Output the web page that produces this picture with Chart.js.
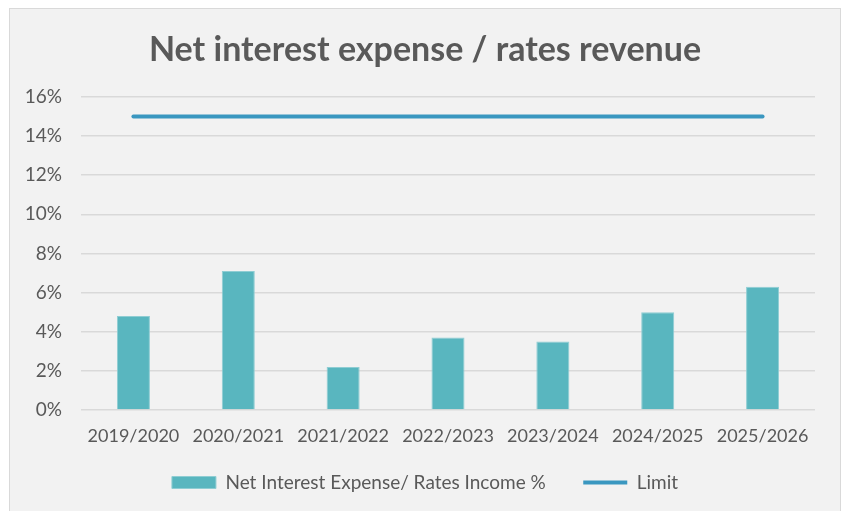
<!DOCTYPE html>
<html>
<head>
<meta charset="utf-8">
<script src="https://cdn.jsdelivr.net/npm/chart.js@4/dist/chart.umd.min.js"></script>
<style>
    html, body { margin: 0; padding: 0; background: #ffffff; }
    #frame {
        position: absolute; left: 9px; top: 8px;
        width: 830px; height: 510px;
        background: #f2f2f2; border: 1px solid #d9d9d9;
    }
    #chart { display: block; }
</style>
</head>
<body>
<div id="frame"><canvas id="chart" width="830" height="510"></canvas></div>
<script>
(function () {
    'use strict';

    var categories = ['2019/2020', '2020/2021', '2021/2022', '2022/2023', '2023/2024', '2024/2025', '2025/2026'];
    var expenseRatio = [4.8, 7.1, 2.2, 3.7, 3.5, 5.0, 6.3];
    var limitValues = [15, 15, 15, 15, 15, 15, 15];
    var yTicks = [0, 2, 4, 6, 8, 10, 12, 14, 16];

    var textColor = '#595959';
    var fontFamily = 'Lato, "Open Sans", sans-serif';

    // fixed legend box height so the plot bottom lands where the reference has it
    var legendHeight = {
        id: 'legendHeight',
        beforeInit: function (chart) {
            var fit = chart.legend.fit;
            chart.legend.fit = function () {
                fit.bind(chart.legend)();
                this.height = 64;
            };
        }
    };

    new Chart(document.getElementById('chart'), {
        type: 'bar',
        data: {
            labels: categories,
            datasets: [
                {
                    type: 'bar',
                    label: 'Net Interest Expense/ Rates Income %',
                    data: expenseRatio,
                    backgroundColor: '#59b6bf',
                    borderColor: '#8fcdd3',
                    borderWidth: 1,
                    categoryPercentage: 1,
                    barPercentage: 0.315,
                    pointStyle: 'rect'
                },
                {
                    type: 'line',
                    label: 'Limit',
                    data: limitValues,
                    borderColor: '#3a97c0',
                    backgroundColor: '#3a97c0',
                    borderWidth: 4,
                    borderCapStyle: 'round',
                    pointRadius: 0,
                    pointHoverRadius: 0,
                    pointStyle: 'line',
                    fill: false
                }
            ]
        },
        options: {
            responsive: false,
            animation: false,
            layout: { padding: 0 },
            plugins: {
                title: {
                    display: true,
                    text: 'Net interest expense / rates revenue',
                    color: textColor,
                    font: { family: fontFamily, size: 34, weight: 'bold' },
                    padding: { top: 21, bottom: 26 }
                },
                legend: {
                    display: true,
                    position: 'bottom',
                    labels: {
                        usePointStyle: true,
                        pointStyleWidth: 44,
                        boxHeight: 12,
                        padding: 18,
                        color: textColor,
                        font: { family: fontFamily, size: 19 },
                        generateLabels: function (chart) {
                            var items = Chart.defaults.plugins.legend.labels.generateLabels(chart);
                            if (items.length) items[0].text = items[0].text + '    ';
                            return items;
                        }
                    }
                },
                tooltip: { enabled: false }
            },
            scales: {
                x: {
                    grid: { display: false, drawTicks: false },
                    border: { display: false },
                    ticks: { color: textColor, padding: 15, maxRotation: 0, autoSkip: false, font: { family: fontFamily, size: 18 } },
                    afterFit: function (scale) { scale.height = 45; }
                },
                y: {
                    min: 0,
                    max: 16,
                    afterBuildTicks: function (scale) {
                        scale.ticks = yTicks.map(function (v) { return { value: v }; });
                    },
                    grid: { color: '#d9d9d9', lineWidth: 1.5, drawTicks: false },
                    border: { display: false },
                    ticks: {
                        color: textColor,
                        padding: 19,
                        font: { family: fontFamily, size: 19 },
                        callback: function (v) { return v + '%'; }
                    },
                    afterFit: function (scale) { scale.width = 71; }
                },
                // empty right-hand spacer so the title and legend centre on the whole frame
                ySpacer: {
                    position: 'right',
                    min: 0,
                    max: 16,
                    grid: { display: false, drawOnChartArea: false, drawTicks: false },
                    border: { display: false },
                    ticks: { display: false },
                    afterFit: function (scale) { scale.width = 25; }
                }
            }
        },
        plugins: [legendHeight]
    });
})();
</script>
</body>
</html>
